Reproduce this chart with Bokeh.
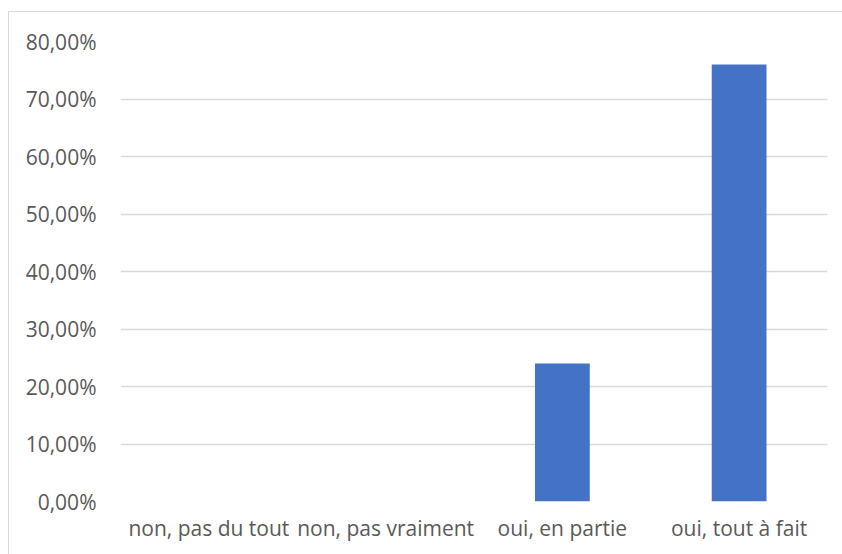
from bokeh.plotting import figure
from bokeh.models import Range1d, FixedTicker, CustomJSTickFormatter
from bokeh.embed import file_html
from bokeh.resources import INLINE

categories = ["non, pas du tout", "non, pas vraiment", "oui, en partie", "oui, tout à fait"]
values = [0.0, 0.0, 24.0, 76.0]
y_ticks = [0, 10, 20, 30, 40, 50, 60, 70, 80]

FONT = "Open Sans"
TXT = "#595959"

p = figure(x_range=categories, y_range=Range1d(0, 80), width=834, height=543,
           output_backend="svg", toolbar_location=None,
           min_border_left=111, min_border_right=16, min_border_top=29, min_border_bottom=54)
p.margin = (11, 0, 0, 8)
p.styles = {"border-top": "1.5px solid #d9d9d9", "border-left": "1.5px solid #d9d9d9"}

p.vbar(x=categories, top=values, width=0.31, fill_color="#4472C4", line_color=None)

p.outline_line_color = None
p.xgrid.grid_line_color = None
p.ygrid.grid_line_color = "#d9d9d9"
p.ygrid.grid_line_width = 1.5

p.yaxis.ticker = FixedTicker(ticks=y_ticks)
p.yaxis.formatter = CustomJSTickFormatter(code="return tick.toFixed(2).replace('.', ',') + '%';")
for ax in (p.xaxis[0], p.yaxis[0]):
    ax.axis_line_color = None
    ax.major_tick_line_color = None
    ax.minor_tick_line_color = None
    ax.major_label_text_font = FONT
    ax.major_label_text_font_size = "21px"
    ax.major_label_text_color = TXT
p.yaxis.major_label_standoff = 18
p.xaxis.major_label_standoff = 6

open("out.html", "w").write(file_html(p, INLINE))
